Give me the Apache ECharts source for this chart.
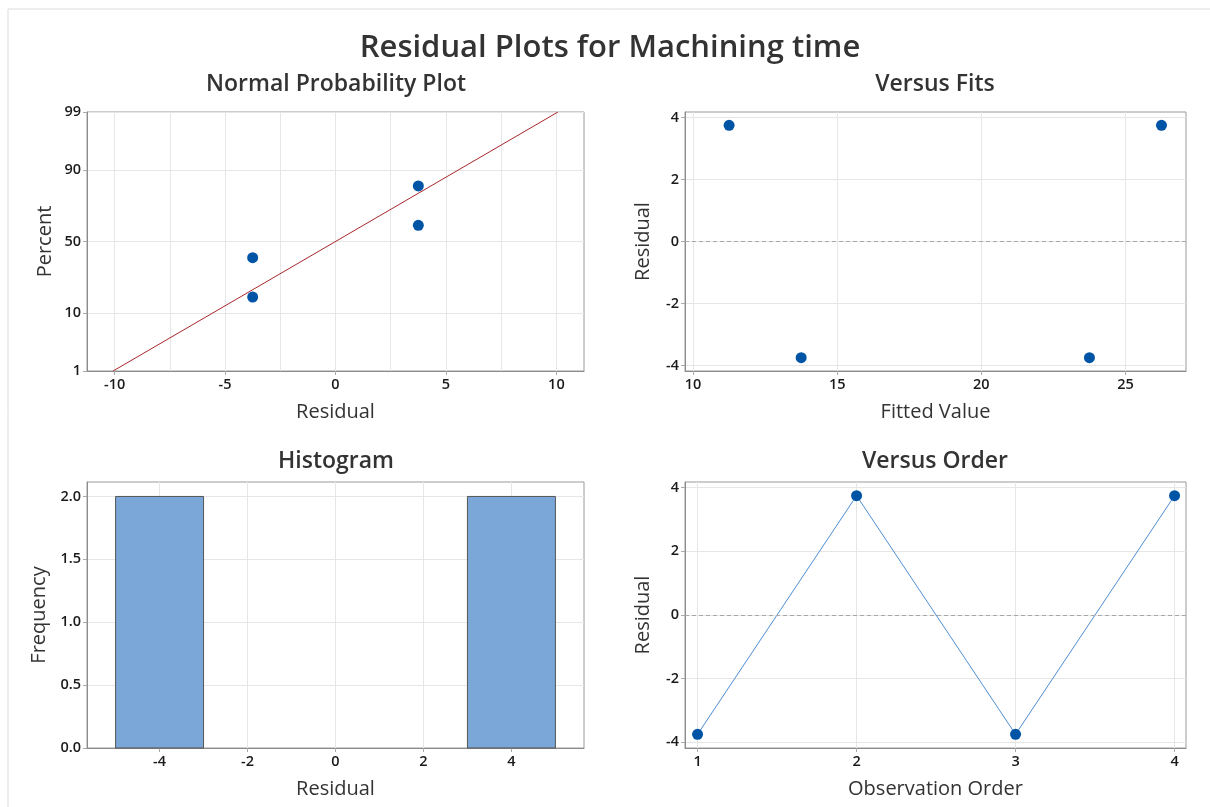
<!DOCTYPE html>
<html>
<head>
<meta charset="utf-8">
<title>Residual Plots for Machining time</title>
<script src="https://cdn.jsdelivr.net/npm/echarts@6/dist/echarts.min.js"></script>
<style>
	html, body { margin: 0; padding: 0; background: #fff; }
	#chart { width: 1210px; height: 807px; }
</style>
</head>
<body>
<div id="chart"></div>
<script>
	// versus order
	var obsOrder = [1, 2, 3, 4];
	var obsResidual = [-3.75, 3.75, -3.75, 3.75];
	// versus fits
	var fitValue = [11.25, 13.75, 23.75, 26.25];
	var fitResidual = [3.75, -3.75, -3.75, 3.75];
	// normal probability plot
	var nppResidual = [-3.75, -3.75, 3.75, 3.75];
	var nppPercent = [15.9, 38.6, 61.4, 84.1];
	var nppLineX = [-10.07, 10.07];
	var nppLinePct = [1, 99];
	var nppTickPct = [1, 10, 50, 90, 99];
	// histogram bins
	var binFrom = [-5, 3];
	var binTo = [-3, 5];
	var binCount = [2, 2];

	var FONT = "'Open Sans', 'Noto Sans', sans-serif";
	var DOT = '#0054a6';

	// percent -> normal score (Acklam)
	function normInv(p) {
		var a = [-3.969683028665376e+01, 2.209460984245205e+02, -2.759285104469687e+02, 1.383577518672690e+02, -3.066479806614716e+01, 2.506628277459239e+00];
		var b = [-5.447609879822406e+01, 1.615858368580409e+02, -1.556989798598866e+02, 6.680131188771972e+01, -1.328068155288572e+01];
		var c = [-7.784894002430293e-03, -3.223964580411365e-01, -2.400758277161838e+00, -2.549732539343734e+00, 4.374664141464968e+00, 2.938163982698783e+00];
		var d = [7.784695709041462e-03, 3.224671290700398e-01, 2.445134137142996e+00, 3.754408661907416e+00];
		var pl = 0.02425, q, r;
		if(p < pl) {
			q = Math.sqrt(-2 * Math.log(p));
			return (((((c[0] * q + c[1]) * q + c[2]) * q + c[3]) * q + c[4]) * q + c[5]) / ((((d[0] * q + d[1]) * q + d[2]) * q + d[3]) * q + 1);
		}
		if(p > 1 - pl) {
			q = Math.sqrt(-2 * Math.log(1 - p));
			return -(((((c[0] * q + c[1]) * q + c[2]) * q + c[3]) * q + c[4]) * q + c[5]) / ((((d[0] * q + d[1]) * q + d[2]) * q + d[3]) * q + 1);
		}
		q = p - 0.5;
		r = q * q;
		return (((((a[0] * r + a[1]) * r + a[2]) * r + a[3]) * r + a[4]) * r + a[5]) * q / (((((b[0] * r + b[1]) * r + b[2]) * r + b[3]) * r + b[4]) * r + 1);
	}
	function z(pct) { return normInv(pct / 100); }

	var zTicks = nppTickPct.map(z);
	var zMin = z(1), zMax = z(99);

	// one value axis, labels/ticks/gridlines at given values
	function axis(gridIndex, min, max, labels, opt) {
		opt = opt || {};
		return {
			type: 'value',
			gridIndex: gridIndex,
			min: min,
			max: max,
			name: opt.name || '',
			nameLocation: 'middle',
			nameGap: opt.nameGap || 30,
			nameTextStyle: { fontFamily: FONT, fontSize: 20, color: '#333' },
			axisLine: { show: opt.line !== false, onZero: false, lineStyle: { color: '#8c8c8c', width: 1 } },
			axisTick: { show: opt.line !== false, length: 4, customValues: opt.grid || labels, lineStyle: { color: '#aaa' } },
			axisLabel: {
				show: opt.line !== false,
				customValues: labels,
				margin: 6,
				fontFamily: FONT,
				fontSize: 14.5,
				fontWeight: 600,
				color: '#1a1a1a',
				formatter: opt.fmt
			},
			splitLine: { show: opt.split !== false, lineStyle: { color: '#e6e6e6', width: 1 } }
		};
	}

	var zeroLine = {
		silent: true,
		symbol: 'none',
		label: { show: false },
		lineStyle: { color: '#a8a8a8', type: [4, 3], width: 1 },
		data: [{ yAxis: 0 }]
	};

	var chart = echarts.init(document.getElementById('chart'));

	var gridBase = { show: true, borderColor: '#9a9a9a', borderWidth: 1, backgroundColor: '#fff', containLabel: false };

	function panelTitle(text, x, y) {
		return { type: 'text', x: x, y: y, style: { text: text, fontFamily: FONT, fontSize: 23, fontWeight: 600, fill: '#333', align: 'center', verticalAlign: 'middle' } };
	}

	var option = {
		animation: false,
		backgroundColor: '#fff',
		graphic: [
			{ type: 'rect', shape: { x: 8, y: 9, width: 1220, height: 820 }, style: { fill: 'none', stroke: '#dcdcdc', lineWidth: 1 }, z: -1 },
			{ type: 'text', x: 610, y: 48, style: { text: 'Residual Plots for Machining time', fontFamily: FONT, fontSize: 31, fontWeight: 600, fill: '#333', align: 'center', verticalAlign: 'middle' } },
			panelTitle('Normal Probability Plot', 336, 84),
			panelTitle('Versus Fits', 935, 84),
			panelTitle('Histogram', 336, 461),
			panelTitle('Versus Order', 935, 461)
		],
		grid: [
			echarts.util.extend({ left: 87, top: 112, width: 497, height: 259 }, gridBase),
			echarts.util.extend({ left: 685, top: 112, width: 501, height: 259 }, gridBase),
			echarts.util.extend({ left: 87, top: 482, width: 497, height: 266 }, gridBase),
			echarts.util.extend({ left: 685, top: 482, width: 501, height: 266 }, gridBase)
		],
		xAxis: [
			axis(0, -11.25, 11.25, [-10, -5, 0, 5, 10], { name: 'Residual', nameGap: 31, split: false }),
			axis(1, 9.72, 27.1, [10, 15, 20, 25], { name: 'Fitted Value', nameGap: 31 }),
			axis(2, -5.65, 5.65, [-4, -2, 0, 2, 4], { name: 'Residual', nameGap: 31 }),
			axis(3, 0.921, 4.072, [1, 2, 3, 4], { name: 'Observation Order', nameGap: 31 }),
			// gridlines every 2.5 for the probability plot
			axis(0, -11.25, 11.25, [], { line: false, grid: [-10, -7.5, -5, -2.5, 0, 2.5, 5, 7.5, 10] })
		],
		yAxis: [
			axis(0, zMin, zMax, zTicks, {
				name: 'Percent', nameGap: 32,
				fmt: function(v) {
					for(var i = 0; i < zTicks.length; i++) {
						if(Math.abs(zTicks[i] - v) < 1e-6) return String(nppTickPct[i]);
					}
					return '';
				}
			}),
			axis(1, -4.18, 4.18, [-4, -2, 0, 2, 4], { name: 'Residual', nameGap: 32 }),
			axis(2, 0, 2.115, [0, 0.5, 1, 1.5, 2], { name: 'Frequency', nameGap: 38, fmt: function(v) { return v.toFixed(1); } }),
			axis(3, -4.18, 4.18, [-4, -2, 0, 2, 4], { name: 'Residual', nameGap: 32 })
		],
		series: [
			{
				type: 'line',
				xAxisIndex: 0,
				yAxisIndex: 0,
				data: nppLineX.map(function(x, i) { return [x, z(nppLinePct[i])]; }),
				symbol: 'none',
				lineStyle: { color: '#a8262b', width: 1 },
				z: 3
			},
			{
				type: 'scatter',
				xAxisIndex: 0,
				yAxisIndex: 0,
				data: nppResidual.map(function(x, i) { return [x, z(nppPercent[i])]; }),
				symbolSize: 11,
				itemStyle: { color: DOT, opacity: 1 },
				z: 4
			},
			{
				type: 'scatter',
				xAxisIndex: 1,
				yAxisIndex: 1,
				data: fitValue.map(function(x, i) { return [x, fitResidual[i]]; }),
				symbolSize: 11,
				itemStyle: { color: DOT, opacity: 1 },
				markLine: zeroLine,
				z: 4
			},
			{
				type: 'custom',
				xAxisIndex: 2,
				yAxisIndex: 2,
				data: binFrom.map(function(x, i) { return [x, binTo[i], binCount[i]]; }),
				renderItem: function(params, api) {
					var p0 = api.coord([api.value(0), api.value(2)]);
					var p1 = api.coord([api.value(1), 0]);
					return {
						type: 'rect',
						shape: { x: p0[0], y: p0[1], width: p1[0] - p0[0], height: p1[1] - p0[1] },
						style: { fill: '#7ba6d8', stroke: '#555', lineWidth: 1 }
					};
				},
				z: 3
			},
			{
				type: 'line',
				xAxisIndex: 3,
				yAxisIndex: 3,
				data: obsOrder.map(function(x, i) { return [x, obsResidual[i]]; }),
				symbol: 'circle',
				symbolSize: 11,
				itemStyle: { color: DOT, opacity: 1 },
				lineStyle: { color: '#4d8ed3', width: 1 },
				markLine: zeroLine,
				z: 4
			}
		]
	};

	chart.setOption(option);
</script>
</body>
</html>
